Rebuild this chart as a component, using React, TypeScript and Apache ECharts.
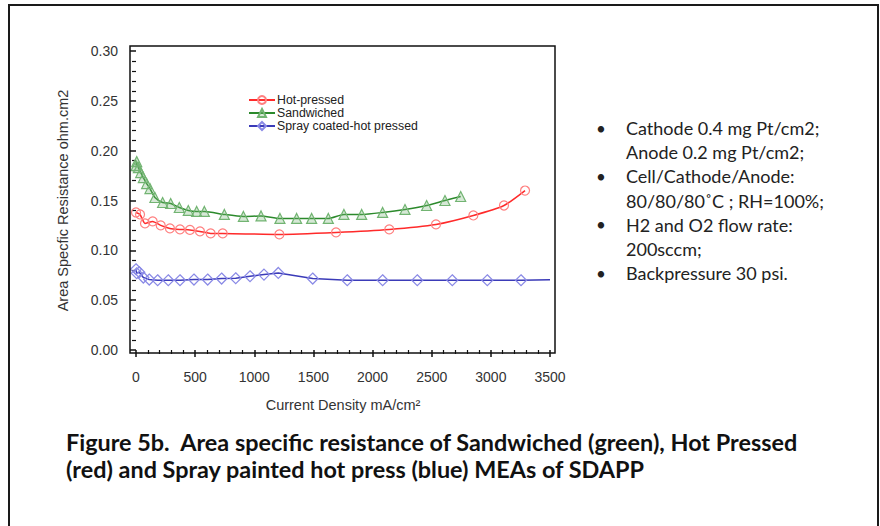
import React, { useEffect, useRef } from "react";
import * as echarts from "echarts";

const hotX = [0, 34, 76, 141, 209, 287, 372, 456, 541, 631, 733, 1212, 1691, 2141, 2536, 2852, 3111, 3289];
const hotY = [0.138, 0.136, 0.127, 0.129, 0.125, 0.122, 0.121, 0.1205, 0.119, 0.117, 0.117, 0.116, 0.118, 0.121, 0.126, 0.135, 0.145, 0.160];

const sandX = [0, 6, 20, 40, 62, 90, 118, 160, 225, 293, 366, 442, 513, 578, 747, 908, 1057, 1217, 1358, 1485, 1626, 1758, 1908, 2085, 2274, 2457, 2612, 2745];
const sandY = [0.185, 0.189, 0.183, 0.178, 0.173, 0.167, 0.162, 0.153, 0.148, 0.147, 0.143, 0.140, 0.139, 0.139, 0.136, 0.134, 0.1345, 0.132, 0.132, 0.132, 0.132, 0.136, 0.136, 0.138, 0.141, 0.145, 0.150, 0.154];

const sprayX = [0, 6, 28, 62, 112, 183, 273, 372, 490, 606, 724, 843, 964, 1082, 1203, 1494, 1786, 2085, 2378, 2674, 2970, 3255, 3500];
const sprayY = [0.081, 0.077, 0.078, 0.0727, 0.0707, 0.070, 0.070, 0.070, 0.0707, 0.0707, 0.0717, 0.072, 0.074, 0.0757, 0.0773, 0.0717, 0.070, 0.070, 0.070, 0.070, 0.070, 0.070, 0.0705];

const xTicks = [0, 500, 1000, 1500, 2000, 2500, 3000, 3500];
const yTicks = [0.0, 0.05, 0.1, 0.15, 0.2, 0.25, 0.3];

const seriesNames = ["Hot-pressed", "Sandwiched", "Spray coated-hot pressed"];

const bullets = [
  ["Cathode 0.4 mg Pt/cm2;", "Anode 0.2 mg Pt/cm2;"],
  ["Cell/Cathode/Anode:", "80/80/80\u02DAC ; RH=100%;"],
  ["H2 and O2 flow rate:", "200sccm;"],
  ["Backpressure 30 psi."],
];

const captionLines = [
  "Figure 5b.  Area specific resistance of Sandwiched (green), Hot Pressed",
  "(red) and Spray painted hot press (blue) MEAs of SDAPP",
];

export default function App() {
  const ref = useRef<HTMLDivElement>(null);
  useEffect(() => {
    document.body.style.margin = "0";
    const chart = echarts.init(ref.current!, null, { renderer: "svg" });
    const axisFont = "'Liberation Sans', Arial, sans-serif";
    const textFont = "Lato, 'Open Sans', sans-serif";

    const graphics: any[] = [
      {
        type: "rect",
        shape: { x: 9, y: 5, width: 869, height: 560 },
        style: { fill: "none", stroke: "#1a1a1a", lineWidth: 2 },
        silent: true,
      },
      {
        type: "rect",
        shape: { x: 130, y: 46, width: 425, height: 307 },
        style: { fill: "none", stroke: "#111", lineWidth: 1.5 },
        silent: true,
        z: 10,
      },
    ];
    let lineIdx = 0;
    bullets.forEach((group) => {
      group.forEach((t, j) => {
        const y = 128 + lineIdx * 24.2;
        if (j === 0) {
          graphics.push({
            type: "text",
            x: 601,
            y,
            style: { text: "\u2022", font: `17px ${textFont}`, fill: "#222", align: "center", verticalAlign: "middle" },
          });
        }
        graphics.push({
          type: "text",
          x: 626,
          y,
          style: { text: t, font: `18px ${textFont}`, fill: "#222", align: "left", verticalAlign: "middle" },
        });
        lineIdx++;
      });
    });
    captionLines.forEach((t, i) => {
      graphics.push({
        type: "text",
        x: 66,
        y: 442 + i * 27,
        style: { text: t, font: `bold 23.4px ${textFont}`, fill: "#111", align: "left", verticalAlign: "middle" },
      });
    });

    const toPairs = (xs: number[], ys: number[]) => xs.map((x, i) => [x, ys[i]]);

    chart.setOption({
      animation: false,
      backgroundColor: "#fff",
      grid: { left: 136, right: 330, top: 51, bottom: 176, containLabel: false },
      legend: {
        data: seriesNames,
        orient: "vertical",
        left: 243,
        top: 89,
        itemGap: 1,
        itemWidth: 26,
        itemHeight: 10,
        textStyle: { fontFamily: axisFont, fontSize: 12.3, color: "#222", padding: [0, 0, 0, -3] },
      },
      xAxis: {
        type: "value",
        min: 0,
        max: 3500,
        interval: 500,
        offset: 3,
        axisLine: { show: false },
        axisTick: { show: true, inside: false, length: 7, lineStyle: { color: "#111", width: 1.5 } },
        minorTick: { show: true, splitNumber: 5, length: 4, lineStyle: { color: "#111", width: 1.2 } },
        splitLine: { show: false },
        axisLabel: {
          margin: 17,
          fontFamily: axisFont,
          fontSize: 14,
          color: "#333",
          formatter: (v: number) => String(v),
        },
        name: "Current Density mA/cm\u00B2",
        nameLocation: "middle",
        nameGap: 44,
        nameTextStyle: { fontFamily: axisFont, fontSize: 14.5, color: "#333" },
      },
      yAxis: {
        type: "value",
        min: 0,
        max: 0.3,
        interval: 0.05,
        offset: 6,
        axisLine: { show: false },
        axisTick: { show: true, inside: false, length: 6, lineStyle: { color: "#111", width: 1.5 } },
        minorTick: { show: true, splitNumber: 5, length: 4, lineStyle: { color: "#111", width: 1.2 } },
        splitLine: { show: false },
        axisLabel: {
          margin: 12,
          fontFamily: axisFont,
          fontSize: 14,
          color: "#333",
          formatter: (v: number) => v.toFixed(2),
        },
        name: "Area Specfic Resistance ohm.cm2",
        nameLocation: "middle",
        nameGap: 60,
        nameTextStyle: { fontFamily: axisFont, fontSize: 14.5, color: "#333" },
      },
      series: [
        {
          name: seriesNames[0],
          type: "line",
          data: toPairs(hotX, hotY),
          clip: false,
          symbol: "circle",
          symbolSize: 9,
          lineStyle: { color: "#ff2a2a", width: 1.5 },
          itemStyle: { color: "rgba(255,255,255,0)", borderColor: "#ff8080", borderWidth: 1.2 },
          smooth: 0.2,
        },
        {
          name: seriesNames[1],
          type: "line",
          data: toPairs(sandX, sandY),
          clip: false,
          symbol: "triangle",
          symbolSize: 10,
          lineStyle: { color: "#2c8a2c", width: 1.5 },
          itemStyle: { color: "rgba(120,180,120,0.3)", borderColor: "#72b472", borderWidth: 1.2 },
          smooth: 0.2,
        },
        {
          name: seriesNames[2],
          type: "line",
          data: sprayX.map((x, i) =>
            i === sprayX.length - 1 ? { value: [x, sprayY[i]], symbol: "none" } : [x, sprayY[i]]
          ),
          clip: false,
          symbol: "diamond",
          symbolSize: 11,
          lineStyle: { color: "#3b3bb8", width: 1.5 },
          itemStyle: { color: "rgba(255,255,255,0)", borderColor: "#8a8ae6", borderWidth: 1.2 },
        },
      ],
      graphic: graphics,
    });
    return () => chart.dispose();
  }, []);
  return <div ref={ref} style={{ width: 880, height: 526 }} />;
}
